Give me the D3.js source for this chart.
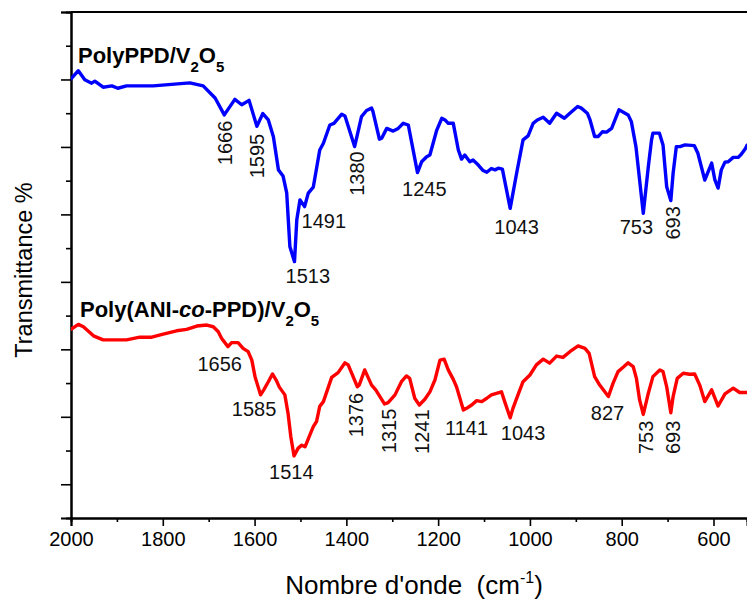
<!DOCTYPE html>
<html>
<head>
<meta charset="utf-8">
<script src="https://cdn.jsdelivr.net/npm/d3@7"></script>
<style>
  body { margin: 0; background: #fff; }
  svg { display: block; font-family: Arial, "Liberation Sans", sans-serif; }
</style>
</head>
<body>
<div class="chart"></div>
<script>
const FRAME_WIDTH = 747;
const FRAME_HEIGHT = 601;
const MARGINS = {left: 71, right: 0, top: 12, bottom: 83};

// wavenumber (cm-1) and transmittance (arbitrary, offset per curve)
const WN_PPD = [2000,1984,1970,1955,1948,1930,1911,1898,1879,1821,1741,1712,1686,1666,1643,1628,1612,1595,1582,1570,1559,1548,1538,1530,1523,1513,1508,1501,1491,1483,1472,1458,1450,1436,1427,1410,1403,1382,1367,1356,1345,1342,1328,1323,1312,1298,1287,1276,1265,1245,1236,1225,1218,1203,1192,1185,1178,1167,1156,1149,1142,1131,1124,1113,1102,1094,1084,1076,1069,1060,1043,1029,1015,1004,993,984,971,957,942,925,913,896,888,875,869,859,851,842,833,822,806,786,779,769,753,742,735,732,718,710,702,693,688,681,673,662,642,634,619,604,597,590,583,575,568,557,546,539,530,527];
const T_PPD = [130.2,132.6,129.9,128.9,129.5,127.7,128.1,127.4,128.1,128.1,129.0,128.1,124.5,119.5,124.1,122.5,123.8,116.1,119.9,118.0,113.0,103.2,101.4,96.4,80.4,76.0,88.4,94.3,92.3,96.3,98.1,109.1,111.1,116.5,117.0,119.7,119.2,110.1,119.0,120.8,121.5,120.5,112.3,112.6,115.5,114.7,115.5,117.0,116.5,102.4,105.6,107.1,107.6,115.0,118.5,118.0,117.0,117.0,109.1,106.4,107.6,105.6,106.1,104.7,103.0,102.5,103.6,103.2,103.7,103.4,91.8,102.2,112.1,113.3,117.0,118.0,118.8,117.0,120.0,118.5,120.0,122.0,121.5,120.0,118.0,113.1,113.1,114.5,114.4,115.5,121.0,119.5,117.5,110.1,90.3,104.2,112.1,114.1,114.1,110.6,98.2,94.1,102.2,110.1,110.1,110.6,110.4,108.1,100.2,105.2,100.2,97.8,103.2,105.5,105.6,106.9,106.9,107.9,109.6,110.5];

const WN_COP = [2000,1984,1973,1951,1930,1879,1850,1824,1799,1770,1748,1726,1704,1690,1679,1672,1658,1650,1636,1625,1614,1606,1599,1587,1580,1570,1561,1553,1546,1534,1527,1521,1514,1505,1497,1490,1481,1472,1465,1458,1450,1432,1418,1403,1396,1376,1372,1360,1345,1336,1317,1309,1294,1280,1269,1262,1251,1241,1229,1218,1207,1196,1187,1178,1167,1160,1145,1138,1127,1116,1105,1094,1084,1062,1055,1043,1037,1026,1015,1000,986,971,957,942,928,913,895,880,871,859,848,829,819,808,795,786,775,768,761,753,742,732,717,710,702,693,688,679,666,652,641,630,619,604,590,575,557,543,527];
const T_COP = [55.9,57.4,56.7,54.0,52.8,52.8,53.6,53.6,54.5,55.5,55.9,56.9,57.2,56.7,55.2,53.3,50.8,52.0,52.0,50.3,49.3,46.8,41.9,36.5,38.0,40.4,42.7,40.9,38.8,36.5,31.0,24.1,18.4,20.7,21.6,21.1,24.1,27.1,28.6,33.1,34.5,41.7,43.1,46.0,45.4,38.9,39.4,43.9,39.4,38.0,33.8,34.2,36.5,40.4,42.1,41.4,35.5,33.5,35.2,37.4,40.9,46.8,47.1,43.9,41.1,38.9,32.0,32.5,33.5,34.8,34.5,35.5,36.5,37.4,34.5,29.7,32.5,36.5,40.4,42.4,45.4,47.1,45.9,48.0,47.6,49.3,51.0,50.3,48.8,41.9,39.4,36.0,39.9,43.4,44.9,46.0,44.9,41.4,35.0,30.7,37.0,41.9,43.9,43.4,38.9,31.2,36.0,41.4,42.9,42.6,42.7,39.4,34.5,38.0,33.2,36.8,38.5,37.2,37.2];

// peak annotations: text, centre wavenumber, centre transmittance, vertical?
const PEAKS_PPD = ["1666","1595","1491","1513","1380","1245","1043","753","693"];
const PEAKS_PPD_WN = [1665,1595,1449,1484,1377,1230,1029,768,689];
const PEAKS_PPD_T = [111.2,107.3,88.1,71.8,102.1,97.5,86.3,86.4,87.5];
const PEAKS_PPD_VERT = [true,true,false,false,true,false,false,false,true];

const PEAKS_COP = ["1656","1585","1514","1376","1315","1241","1141","1043","827","753","693"];
const PEAKS_COP_WN = [1676,1601,1520,1379,1307,1235,1138,1015,831,747,689];
const PEAKS_COP_T = [45.7,32.3,13.6,30.5,25.8,25.6,26.7,25.2,31.1,23.9,23.9];
const PEAKS_COP_VERT = [false,false,false,true,true,true,false,false,false,true,true];

const X_MAJOR = [2000,1800,1600,1400,1200,1000,800,600];
const X_MINOR = [1900,1700,1500,1300,1100,900,700];
const Y_MAJOR = [10,30,50,70,90,110,130,150];
const Y_MINOR = [20,40,60,80,100,120,140];

const SVG = d3.select(".chart").append("svg")
              .attr("width", FRAME_WIDTH)
              .attr("height", FRAME_HEIGHT);

const PLOT_W = FRAME_WIDTH - MARGINS.left - MARGINS.right;
const PLOT_H = FRAME_HEIGHT - MARGINS.top - MARGINS.bottom;

const X_SCALE = d3.scaleLinear().domain([2000, 527]).range([MARGINS.left, MARGINS.left + PLOT_W]);
const Y_SCALE = d3.scaleLinear().domain([0, 150]).range([MARGINS.top + PLOT_H, MARGINS.top]);

SVG.append("clipPath").attr("id", "clip")
   .append("rect")
     .attr("x", MARGINS.left).attr("y", MARGINS.top)
     .attr("width", PLOT_W).attr("height", PLOT_H);

// axes
const BOTTOM = MARGINS.top + PLOT_H;
const xMajor = SVG.append("g")
    .attr("transform", "translate(0," + BOTTOM + ")")
    .call(d3.axisBottom(X_SCALE).tickValues(X_MAJOR).tickSize(8).tickPadding(6).tickFormat(d3.format("d")));
const xMinor = SVG.append("g")
    .attr("transform", "translate(0," + BOTTOM + ")")
    .call(d3.axisBottom(X_SCALE).tickValues(X_MINOR).tickSize(4).tickFormat(""));
const yMajor = SVG.append("g")
    .attr("transform", "translate(" + MARGINS.left + ",0)")
    .call(d3.axisLeft(Y_SCALE).tickValues(Y_MAJOR).tickSize(10).tickFormat(""));
const yMinor = SVG.append("g")
    .attr("transform", "translate(" + MARGINS.left + ",0)")
    .call(d3.axisLeft(Y_SCALE).tickValues(Y_MINOR).tickSize(5).tickFormat(""));

[xMajor, xMinor, yMajor, yMinor].forEach((g) => {
    g.select(".domain").attr("stroke", "#000").attr("stroke-width", 2);
    g.selectAll(".tick line").attr("stroke", "#000").attr("stroke-width", 1.6);
});
xMajor.selectAll(".tick text")
    .attr("font-size", "20px")
    .attr("fill", "#000")
    .attr("font-family", "Arial, 'Liberation Sans', sans-serif");

// top frame line
SVG.append("line")
   .attr("x1", MARGINS.left).attr("x2", FRAME_WIDTH)
   .attr("y1", MARGINS.top).attr("y2", MARGINS.top)
   .attr("stroke", "#000").attr("stroke-width", 2);

// curves
const LINE = d3.line()
    .x((d) => X_SCALE(d[0]))
    .y((d) => Y_SCALE(d[1]));

function drawCurve(wn, t, color) {
    SVG.append("path")
       .datum(d3.zip(wn, t))
       .attr("clip-path", "url(#clip)")
       .attr("fill", "none")
       .attr("stroke", color)
       .attr("stroke-width", 3.4)
       .attr("stroke-linejoin", "round")
       .attr("stroke-linecap", "round")
       .attr("d", LINE);
}
drawCurve(WN_PPD, T_PPD, "#0000ff");
drawCurve(WN_COP, T_COP, "#ff0000");

// peak labels
function drawPeaks(texts, wns, ts, verts) {
    texts.forEach((txt, i) => {
        let x = X_SCALE(wns[i]);
        let y = Y_SCALE(ts[i]);
        SVG.append("text")
           .attr("transform", "translate(" + x + "," + y + ")" + (verts[i] ? " rotate(-90)" : ""))
           .attr("text-anchor", "middle")
           .attr("dy", "0.36em")
           .attr("font-size", "20px")
           .attr("fill", "#111")
           .text(txt);
    });
}
drawPeaks(PEAKS_PPD, PEAKS_PPD_WN, PEAKS_PPD_T, PEAKS_PPD_VERT);
drawPeaks(PEAKS_COP, PEAKS_COP_WN, PEAKS_COP_T, PEAKS_COP_VERT);

// sample names
function sampleName(x, y, parts) {
    let t = SVG.append("text")
               .attr("x", x).attr("y", y)
               .attr("font-size", "22px")
               .attr("font-weight", "bold")
               .attr("fill", "#000");
    parts.forEach((p) => {
        let s = t.append("tspan").text(p.t);
        if (p.sub) s.attr("font-size", "15px").attr("baseline-shift", "sub");
        if (p.it) s.attr("font-style", "italic");
    });
}
sampleName(78, 63, [{t: "PolyPPD/V"}, {t: "2", sub: true}, {t: "O"}, {t: "5", sub: true}]);
sampleName(80, 317, [{t: "Poly(ANI-"}, {t: "co", it: true}, {t: "-PPD)/V"}, {t: "2", sub: true}, {t: "O"}, {t: "5", sub: true}]);

// axis titles
const xTitle = SVG.append("text")
    .attr("x", 414).attr("y", 594)
    .attr("text-anchor", "middle")
    .attr("font-size", "26px")
    .attr("fill", "#000");
xTitle.append("tspan").text("Nombre d'onde\u00a0\u00a0(cm");
xTitle.append("tspan").attr("font-size", "16px").attr("dy", -11).text("-1");
xTitle.append("tspan").attr("dy", 11).text(")");

SVG.append("text")
   .attr("transform", "translate(32,270) rotate(-90)")
   .attr("text-anchor", "middle")
   .attr("font-size", "23.5px")
   .attr("fill", "#000")
   .text("Transmittance %");
</script>
</body>
</html>
